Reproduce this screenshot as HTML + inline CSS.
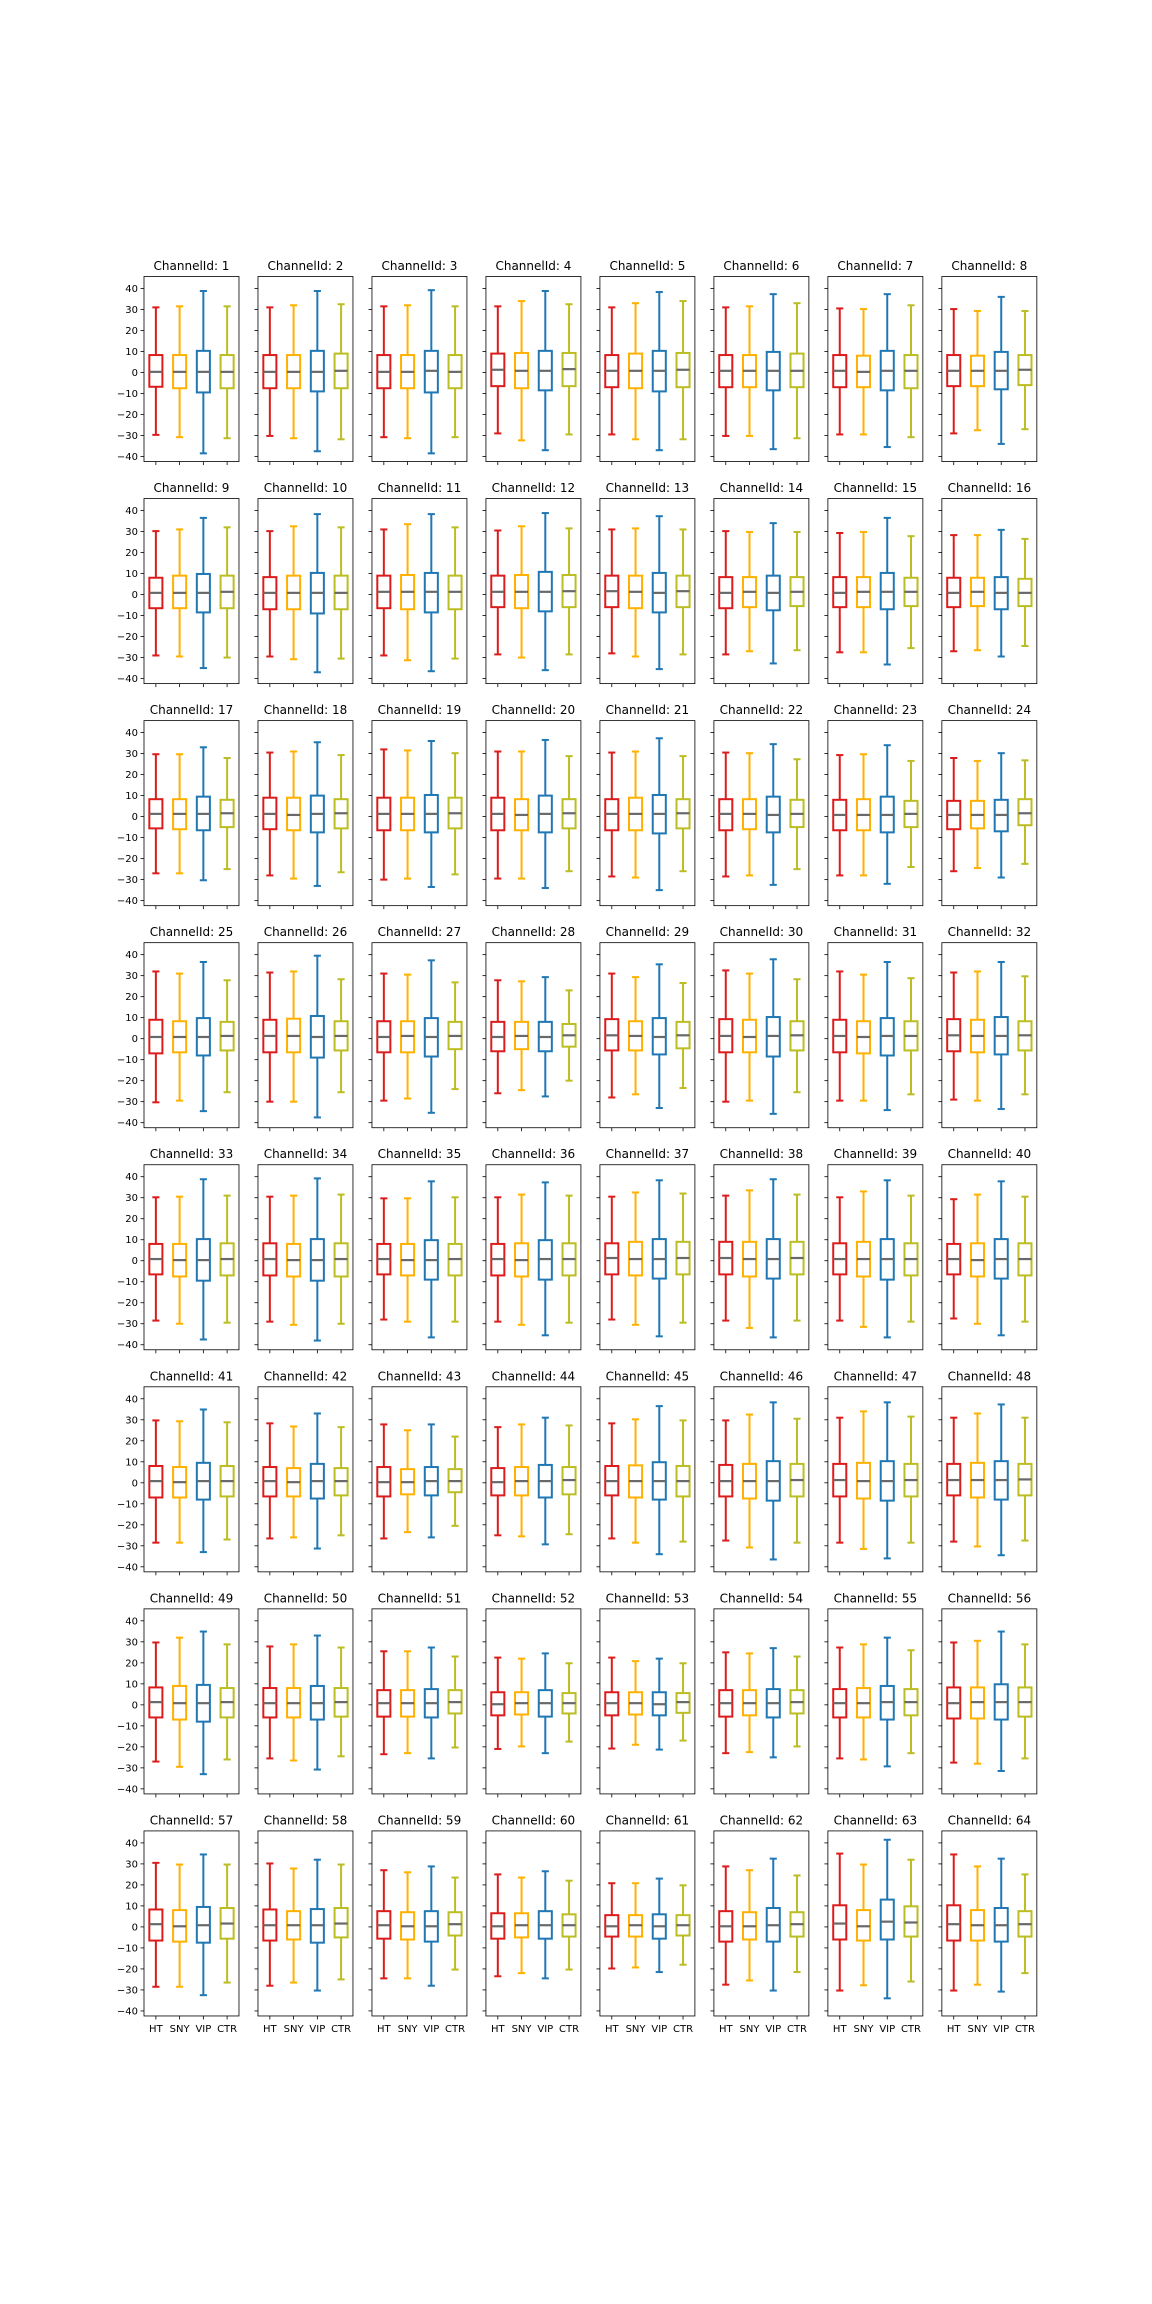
<!DOCTYPE html>
<html><head><meta charset="utf-8"><title>ChannelId boxplots</title>
<style>
html,body{margin:0;padding:0;background:#fff;}
svg{display:block;font-family:"DejaVu Sans","Liberation Sans",sans-serif;}
</style></head>
<body>
<svg id="chart" width="1152" height="2304" viewBox="0 0 1152 2304" xmlns="http://www.w3.org/2000/svg">
<rect x="0" y="0" width="1152" height="2304" fill="#fff"/>
</svg>
<script>
// categories
const categories = ["HT","SNY","VIP","CTR"];
const seriesColors = ["#dc1c1c","#ffb000","#1f77b4","#bcbd22"];
const yTicks = [-40,-30,-20,-10,0,10,20,30,40];
const yTickLabels = ["\u221240","\u221230","\u221220","\u221210","0","10","20","30","40"];
// [whiskerLow, q1, median, q3, whiskerHigh] per channel (1..64)
const htStats = [
[-29.7,-6.8,0.3,8.3,31],[-30.2,-7.5,0.3,8.3,31],[-30.8,-7.5,0.3,8.3,31.5],[-29,-6.5,1.3,9,31.5],[-29.5,-7,0.8,8.3,31],[-30.2,-7,0.8,8.3,31],[-29.5,-7,0.8,8.3,30.5],[-29,-6.5,0.8,8.3,30.2],
[-29,-6.5,0.8,8,30.2],[-29.5,-7,0.8,8.3,30.2],[-29,-6.5,1.3,9,31],[-28.5,-6,1.3,9,30.5],[-28,-6,1.6,9,31],[-28.5,-6.5,0.8,8.3,30.2],[-27.5,-6,0.8,8.3,29.3],[-27,-6,0.8,8,28.3],
[-27,-5.6,1.3,8.3,29.7],[-28,-6,1.3,9,30.5],[-30,-6.5,1.3,9,32],[-29.5,-6.5,1.3,9,31],[-28.5,-6.5,1.3,8.3,30.5],[-28.5,-6.5,1.3,8.3,30.5],[-28,-6.5,0.8,8,29.3],[-26,-6,0.8,7.5,27.9],
[-30.3,-7,0.8,9,32],[-30,-6.5,1.3,9,31.5],[-29.5,-6.5,0.8,8.3,31],[-26,-6,0.8,8,27.8],[-28,-5.6,1.6,9.3,31],[-30,-6.5,1.3,9.3,32.5],[-29.5,-6.5,1.3,9,32],[-29,-6,1.6,9.3,31.5],
[-28.5,-6.5,0.8,8,30.2],[-29,-7,0.8,8.3,30.5],[-28,-6.5,0.8,8,29.7],[-29,-7,0.8,8,30.2],[-28,-6.5,1.3,8.3,30.5],[-28.5,-6.5,1.3,9,31],[-28.5,-6.5,0.8,8.3,30.2],[-27.5,-6.5,0.8,8,29.3],
[-28.5,-7,0.8,8,29.7],[-26.5,-6.5,0.8,7.5,28.3],[-26.5,-6.5,0.3,7.5,27.8],[-25,-6,0.3,7,26.5],[-26.5,-6,0.8,8,28.3],[-27.5,-6.5,0.8,8.5,29.7],[-28.5,-6.5,1.3,9,31],[-28,-6,1.3,9,31],
[-27,-6,1.3,8.3,29.7],[-25.5,-6,0.8,8,27.8],[-23.5,-5.6,0.8,7,25.5],[-21,-5,0.3,6,22.5],[-20.8,-5,0.8,6,22.5],[-23,-5.6,0.8,7,25],[-25.5,-6,0.8,7.5,27.3],[-27.5,-6.5,0.8,8.3,29.7],
[-28.5,-6.5,1.3,8.3,30.5],[-28,-6.5,0.8,8.3,30.2],[-24.5,-5.6,0.8,7.5,27],[-23.5,-5.6,0.3,6.5,25],[-19.8,-4.6,0.3,5.6,20.8],[-27.5,-7,0.3,7.5,28.8],[-30.3,-6,1.6,10.3,34.9],[-30.3,-6.5,1.3,10.3,34.5]];
const snyStats = [
[-30.8,-7.5,0.3,8.3,31.5],[-31.3,-7.5,0.3,8.3,32],[-31.3,-7.5,0.3,8.3,32],[-32.3,-7.5,0.8,9.3,34],[-31.8,-7.5,0.8,9,33],[-30.2,-7,0.8,8.3,31.5],[-29.5,-7,0.3,8,30.2],[-27.5,-6.5,0.8,8,29.3],
[-29.5,-6.5,0.8,9,31],[-30.8,-7,0.8,9,32.5],[-31.3,-7,1.3,9.3,33.5],[-30,-6.5,1.3,9.3,32.5],[-29.5,-6.5,1.3,9,31.5],[-27,-6,1.3,8.3,29.8],[-27.5,-6,1.3,8.3,29.8],[-26.5,-5.5,1.3,8,28.3],
[-27,-6,1.3,8.3,29.7],[-29.5,-6.5,0.8,9,31],[-29.5,-6.5,1.3,9,31.5],[-29.5,-6.5,0.8,8.3,31],[-29,-6.5,1.3,9,31],[-28,-6,1.3,8.3,30.2],[-28,-6.5,0.8,8.3,29.7],[-24.5,-5.6,0.8,7.5,26.5],
[-29.5,-6.5,0.8,8.3,31],[-30,-6.5,1.3,9.5,32],[-28.5,-6.5,1.3,8.3,30.5],[-24.5,-5,1.3,8,27.3],[-26.5,-5.6,1.3,8.3,29.3],[-29.5,-6.5,0.8,9,31],[-29.5,-7,0.8,8.3,30.5],[-29.5,-6.5,1.3,9,32],
[-30,-7.5,0.3,8,30.5],[-30.5,-7.5,0.3,8,31],[-29,-7,0.3,8,29.7],[-30.5,-7.5,0.3,8.3,31.5],[-30.5,-7,0.8,9,32.5],[-32,-7.5,0.8,9,33.5],[-31.5,-7.5,0.8,9,33],[-30,-7.5,0.3,8.3,31.5],
[-28.5,-7,0.3,7.5,29.3],[-26,-6.5,0.3,7,26.8],[-23.5,-5.5,0.3,6.5,25],[-25.5,-6,0.8,7.5,27.8],[-28.5,-7,0.8,8.3,30.2],[-30.8,-7.5,0.8,9,32.5],[-31.5,-7.5,0.8,9.5,34],[-30.3,-7,1.3,9.5,33],
[-29.5,-7,0.8,9,32],[-26.5,-6,0.8,8,28.8],[-23,-5.6,0.8,7,25.5],[-19.8,-4.6,0.8,6,22],[-19,-4.6,0.8,6,20.8],[-22.5,-5,0.8,7,24.5],[-26,-6,0.8,8,28.8],[-28,-6.5,1.3,8.3,30.5],
[-28.5,-7,0.3,8,29.7],[-26.5,-6,0.8,7.5,27.8],[-24.5,-6,0.3,7,26],[-22,-5,0.8,6.5,23.5],[-19.3,-4.6,0.8,5.6,20.8],[-25.5,-6,0.3,7,27],[-27.8,-6.5,0.3,8,29.7],[-27.5,-6.5,0.8,8,28.8]];
const vipStats = [
[-38.5,-9.5,0.3,10.3,38.8],[-37.5,-9,0.3,10.3,38.8],[-38.5,-9.5,0.8,10.3,39.2],[-37,-8.5,0.8,10.3,38.8],[-37,-9,0.8,10.3,38.3],[-36.5,-8.5,0.8,9.8,37.3],[-35.5,-8.5,0.8,10.3,37.3],[-34,-8,0.8,9.8,36],
[-35,-8.5,0.8,9.8,36.5],[-37,-9,0.8,10.3,38.3],[-36.5,-8.5,1.3,10.3,38.3],[-36,-8,1.3,10.8,38.8],[-35.5,-8.5,0.8,10.3,37.3],[-32.8,-7.5,0.8,9,34],[-33.3,-7,1.3,10.3,36.5],[-29.5,-7,0.8,8.3,30.8],
[-30.3,-6.5,1.3,9.5,33],[-33,-7.5,1.3,10,35.4],[-33.5,-7.5,1.3,10.3,36],[-34,-7.5,1.3,10,36.5],[-35,-8,1.3,10.3,37.3],[-32.5,-7.5,0.8,9.5,34.5],[-32,-7.5,0.8,9.5,34],[-29,-7,0.8,8,30.2],
[-34.5,-8,0.8,9.8,36.5],[-37.5,-9,0.8,10.8,39.5],[-35.3,-8.5,0.8,9.8,37.3],[-27.5,-6,0.8,8,29.3],[-33,-7.5,0.8,9.8,35.4],[-35.8,-8.5,1.3,10.3,37.8],[-34,-8,1.3,9.8,36.5],[-33.5,-7.5,1.3,10.3,36.5],
[-37.5,-9.5,0.3,10.3,38.8],[-38,-9.5,0.3,10.3,39.2],[-36.5,-9,0.3,9.8,37.8],[-35.5,-9,0.8,9.8,37.3],[-36,-8.5,0.8,10.3,38.3],[-36.5,-8.5,0.8,10.3,38.8],[-36.5,-9,0.8,10.3,38.3],[-35.5,-8.5,0.8,10.3,37.8],
[-33,-8,0.8,9.5,34.9],[-31.3,-7.5,0.8,9,33],[-26,-6,0.8,7.5,27.8],[-29.3,-7,0.8,8.5,31],[-34,-8,0.8,9.8,36.5],[-36.5,-8.5,0.8,10.3,38.3],[-36,-8.5,0.8,10.3,38.3],[-34.5,-8,1.3,10.3,37.3],
[-33,-8,0.8,9.5,34.9],[-30.8,-7,0.8,9,33],[-25.5,-6,0.8,7.5,27.3],[-23,-5.6,0.8,7,24.5],[-21.3,-5,0.3,6,22],[-25,-6,0.8,7.5,27],[-29.3,-7,1.3,9,32],[-31.5,-7,1.3,9.8,34.9],
[-32.5,-7.5,0.8,9.5,34.5],[-30.3,-7.5,0.8,8.5,32],[-28,-7,0.3,7.5,28.8],[-24.5,-5.6,0.8,7.5,26.5],[-21.5,-5.6,0.3,6,23],[-30.3,-7,0.8,9,32.5],[-34,-6,2.5,13,41.5],[-30.8,-7,0.8,9,32.5]];
const ctrStats = [
[-31.3,-7.5,0.3,8.3,31.5],[-31.8,-7.5,0.8,9,32.5],[-30.8,-7.5,0.3,8.3,31.5],[-29.5,-6.5,1.6,9.3,32.5],[-31.8,-7,1.3,9.3,34],[-31.3,-7,0.8,9,33],[-30.8,-7.5,0.8,8.3,32],[-27,-6,1.3,8.3,29.3],
[-30,-6.5,1.3,9,32],[-30.5,-7,0.8,9,32],[-30.5,-7,1.3,9,32],[-28.5,-6,1.6,9.3,31.5],[-28.5,-6,1.6,9,31],[-26.5,-5.5,1.3,8.3,29.8],[-25.5,-5.5,1.3,8,27.8],[-24.5,-5.5,0.8,7.5,26.5],
[-25,-5,1.6,8,27.9],[-26.5,-5.6,1.6,8.3,29.3],[-27.5,-5.6,1.6,9,30.2],[-26,-5.6,1.6,8.3,28.8],[-26,-5.6,1.6,8.3,28.8],[-25,-5,1.3,8,27.3],[-24,-5,1.3,7.5,26.5],[-22.5,-4.1,1.6,8.3,26.8],
[-25.5,-5.6,1.3,8,27.8],[-25.5,-5.6,1.3,8.3,28.3],[-24,-5,1.3,8,26.8],[-20,-3.8,1.6,7,23],[-23.5,-4.6,1.6,8,26.5],[-25.5,-5.6,1.6,8.3,28.3],[-26.5,-5.6,1.3,8.3,28.8],[-26.5,-5.6,1.6,8.3,29.7],
[-29.5,-7,0.8,8.3,31],[-30,-7.5,0.8,8.3,31.5],[-29,-7,0.8,8,30.2],[-29.5,-7,0.8,8.3,31],[-29.5,-6.5,1.3,9,32],[-28.5,-6.5,1.3,9,31.5],[-29,-7,0.8,8.3,31],[-29,-7,0.8,8.3,30.5],
[-27,-6.5,0.8,8,28.8],[-25,-6,0.8,7,26.5],[-20.5,-4.5,0.8,6.5,22],[-24.5,-5.5,1.3,7.5,27.3],[-28,-6.5,0.8,8,29.7],[-28.5,-6.5,1.3,9,30.5],[-28.5,-6.5,1.3,9,31.5],[-27.5,-6,1.6,9,31],
[-26,-6,1.3,8,28.8],[-24.5,-5.6,1.3,8,27.3],[-20.3,-4.1,1.3,7,23],[-17.5,-4.1,0.8,5.6,19.8],[-17,-3.8,1.3,5.6,19.8],[-19.8,-4.1,1.3,7,23],[-23,-5,1.3,7.5,26],[-25.5,-5.6,1.3,8.3,28.8],
[-26.5,-5.6,1.6,9,29.7],[-25,-5,1.6,9,29.7],[-20.3,-4.1,1.3,7,23.5],[-20.3,-4.6,0.8,6,22],[-18,-4.1,0.8,5.6,19.8],[-21.5,-4.6,1.3,7,24.5],[-26,-4.6,2.1,9.8,32],[-22,-4.6,1.3,7.5,25]];
const allStats = [htStats, snyStats, vipStats, ctrStats];

const NS = "http://www.w3.org/2000/svg";
const svg = document.getElementById("chart");
const AX_LEFT = 144, AX_W = 94.98, COL_PITCH = 113.98;
const AX_TOP = 276.5, AX_H = 185.05, ROW_PITCH = 222.06;
const Y_MIN = -42.4, Y_MAX = 45.7, X_MIN = 0.5, X_MAX = 4.5;
const BOX_W = 0.55, CAP_W = 0.3;

function mk(tag, attrs, parent){
  const e = document.createElementNS(NS, tag);
  for (const k in attrs) e.setAttribute(k, attrs[k]);
  (parent || svg).appendChild(e);
  return e;
}

for (let i = 0; i < 64; i++) {
  const row = Math.floor(i / 8), col = i % 8;
  const left = AX_LEFT + col * COL_PITCH, top = AX_TOP + row * ROW_PITCH;
  const yScale = v => top + (Y_MAX - v) / (Y_MAX - Y_MIN) * AX_H;
  const xScale = p => left + (p - X_MIN) / (X_MAX - X_MIN) * AX_W;

  const g = mk("g", {});
  
  

  const title = mk("text", {x: left + AX_W / 2, y: top - 6.5, "text-anchor": "middle", "font-size": "12", fill: "#000"}, g);
  title.textContent = "ChannelId: " + (i + 1);
  
  

  // y ticks
  yTicks.forEach((t, k) => {
    const y = yScale(t);
    const tk = mk("line", {x1: left - 3.5, x2: left, y1: y, y2: y, stroke: "#000", "stroke-width": "0.8"}, g);
    
    
    if (col === 0) {
      const lb = mk("text", {x: left - 6, y: y + 3.5, "text-anchor": "end", "font-size": "10", fill: "#000"}, g);
      lb.textContent = yTickLabels[k];
      
      
    }
  });
  // x ticks
  categories.forEach((c, k) => {
    const x = xScale(k + 1);
    const tk = mk("line", {x1: x, x2: x, y1: top + AX_H, y2: top + AX_H + 3.5, stroke: "#000", "stroke-width": "0.8"}, g);
    
    
    if (row === 7) {
      const lb = mk("text", {x: x, y: top + AX_H + 16, "text-anchor": "middle", "font-size": "10", fill: "#000"}, g);
      lb.textContent = c;
      
      
    }
  });

  // boxes
  allStats.forEach((series, s) => {
    const [lo, q1, med, q3, hi] = series[i];
    const cx = xScale(s + 1);
    const bx0 = xScale(s + 1 - BOX_W / 2), bx1 = xScale(s + 1 + BOX_W / 2);
    const cx0 = xScale(s + 1 - CAP_W / 2), cx1 = xScale(s + 1 + CAP_W / 2);
    const col_ = seriesColors[s];
    const bg = mk("g", {stroke: col_, "stroke-width": "2", fill: "none"}, g);
    
    
    mk("line", {x1: cx, x2: cx, y1: yScale(q3), y2: yScale(hi)}, bg);
    mk("line", {x1: cx, x2: cx, y1: yScale(q1), y2: yScale(lo)}, bg);
    mk("line", {x1: cx0, x2: cx1, y1: yScale(hi), y2: yScale(hi)}, bg);
    mk("line", {x1: cx0, x2: cx1, y1: yScale(lo), y2: yScale(lo)}, bg);
    mk("rect", {x: bx0, y: yScale(q3), width: bx1 - bx0, height: yScale(q1) - yScale(q3)}, bg);
    const m = mk("line", {x1: bx0, x2: bx1, y1: yScale(med), y2: yScale(med), stroke: "#696969", "stroke-width": "2.2"}, bg);
    
    
  });

  const frame = mk("rect", {x: left, y: top, width: AX_W, height: AX_H, fill: "none", stroke: "#000", "stroke-width": "0.8"}, g);
  
  
}
</script>
</body></html>
